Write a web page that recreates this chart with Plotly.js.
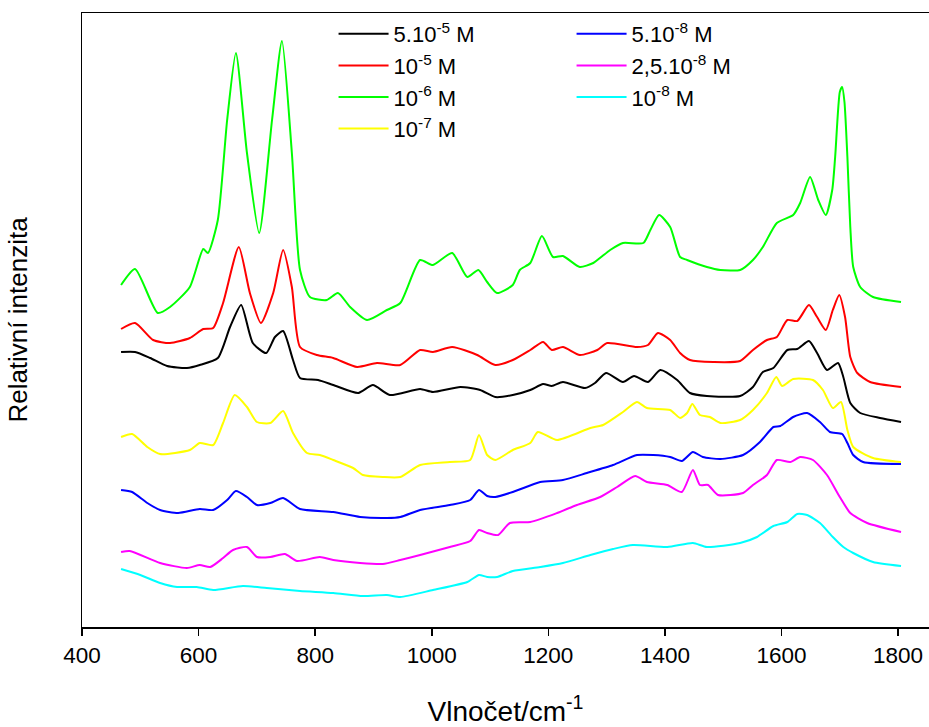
<!DOCTYPE html>
<html><head><meta charset="utf-8">
<script src="https://cdn.plot.ly/plotly-3.0.1.min.js"></script>
<style>html,body{margin:0;padding:0;background:#fff;}</style>
</head><body>
<div id="chart" style="width:929px;height:727px;"></div>
<script>
// Wavenumber (cm^-1) and relative intensity (arb. units)
const seriesNames = ["5.10<sup>-5</sup> M", "10<sup>-5</sup> M", "10<sup>-6</sup> M", "10<sup>-7</sup> M",
                     "5.10<sup>-8</sup> M", "2,5.10<sup>-8</sup> M", "10<sup>-8</sup> M"];
const seriesColors = ["#000000", "#ff0000", "#00ff00", "#ffff00", "#0000ff", "#ff00ff", "#00ffff"];

const wnBlack = [467,491,517,546,580,602,633,654,673,693,716,731,745,762,774,805,831,874,899,928,980,1002,1049,1083,1109,1139,1169,1191,1206,1225,1263,1280,1299,1328,1347,1371,1392,1421,1443,1472,1529,1551,1568,1586,1610,1627,1647,1661,1678,1697,1706,1718,1735,1769,1805];
const yBlack  = [275,275,269,261,259,262,269,300,322,284,274,290,296,267,249,247,242,234,242,232,238,235,240,237,230,232,237,243,241,245,239,244,254,245,251,245,257,247,234,231,231,240,255,259,277,278,286,274,257,264,250,224,214,209,205];

const wnRed = [467,491,522,551,585,608,625,642,669,688,707,728,745,760,774,803,831,872,906,946,980,1002,1035,1078,1109,1139,1169,1191,1206,1225,1254,1284,1301,1352,1371,1388,1409,1426,1443,1483,1529,1551,1575,1592,1610,1627,1647,1661,1676,1688,1699,1709,1718,1730,1752,1805];
const yRed  = [298,304,287,284,289,298,299,324,380,334,304,334,377,340,280,272,269,260,264,262,277,275,280,272,262,267,277,285,277,280,272,277,284,280,282,294,287,274,267,265,266,277,287,290,307,306,322,310,297,317,332,310,270,254,245,240];

const wnGreen = [467,491,530,551,585,608,616,633,649,664,683,704,726,743,760,774,791,820,839,860,889,923,946,980,1002,1035,1061,1080,1095,1112,1139,1151,1169,1189,1208,1225,1254,1277,1306,1328,1363,1375,1390,1409,1426,1438,1472,1495,1529,1551,1568,1592,1620,1632,1649,1663,1676,1687,1692,1700,1704,1708,1713,1718,1723,1735,1757,1805];
const yGreen  = [342,358,314,320,340,378,374,407,507,574,474,394,507,586,474,357,330,327,334,320,307,317,324,367,362,374,350,357,345,334,342,357,364,391,370,371,360,364,377,384,384,397,412,400,370,367,360,357,357,367,380,404,412,424,450,427,412,437,470,535,540,525,470,400,360,340,330,325];

const wnYellow = [467,486,512,534,585,602,625,642,662,683,700,723,745,762,786,808,831,865,882,916,946,980,1031,1066,1081,1095,1109,1139,1169,1182,1215,1272,1294,1328,1352,1369,1409,1426,1438,1447,1460,1477,1495,1529,1551,1575,1591,1601,1620,1654,1671,1688,1702,1713,1723,1757,1805];
const yYellow  = [190,193,180,173,177,184,182,204,232,220,205,204,216,194,174,172,167,159,152,150,150,162,165,167,192,172,167,177,184,195,187,199,202,215,225,219,217,209,214,223,212,210,204,207,217,234,250,241,248,247,237,219,225,197,180,169,165];

const wnBlue = [467,486,512,534,565,602,625,649,664,683,700,723,745,774,831,877,923,946,980,1031,1066,1081,1095,1109,1139,1186,1225,1266,1311,1352,1380,1409,1429,1448,1465,1495,1534,1563,1586,1598,1620,1644,1666,1683,1704,1713,1723,1740,1805];
const yBlue  = [137,135,124,117,114,118,117,127,136,130,122,124,129,118,115,110,109,110,117,122,127,137,131,130,135,145,147,154,162,172,172,170,166,175,170,168,172,185,200,201,210,214,205,195,193,184,172,165,163];

const wnMagenta = [467,482,534,580,602,620,642,659,683,700,723,748,769,808,831,877,916,946,980,1031,1066,1081,1095,1114,1134,1169,1215,1249,1289,1318,1349,1369,1404,1429,1448,1460,1474,1491,1534,1551,1575,1592,1615,1632,1654,1678,1700,1718,1747,1805];
const yMagenta  = [75,76,64,59,62,60,69,77,80,70,70,73,66,70,67,64,63,67,72,80,86,97,94,92,104,105,114,122,130,140,151,145,142,135,157,142,142,132,134,142,152,167,165,170,167,152,130,114,104,95];

const wnCyan = [467,500,534,563,597,625,676,717,774,831,882,923,946,1002,1061,1081,1095,1112,1139,1186,1225,1272,1311,1345,1404,1448,1472,1529,1558,1586,1610,1627,1644,1666,1688,1706,1723,1757,1805];
const yCyan  = [58,52,44,40,40,37,41,39,36,34,31,32,30,37,45,52,50,50,56,60,64,72,78,82,80,84,80,84,90,101,105,113,112,104,90,80,74,65,61];

const xTicks = [400,600,800,1000,1200,1400,1600,1800];

const xs = [wnBlack, wnRed, wnGreen, wnYellow, wnBlue, wnMagenta, wnCyan];
const ys = [yBlack, yRed, yGreen, yYellow, yBlue, yMagenta, yCyan];

const traces = xs.map((x, i) => ({
  x: x, y: ys[i], type: 'scatter', mode: 'lines',
  name: seriesNames[i],
  line: {color: seriesColors[i], width: 2, shape: 'spline', smoothing: 0.6},
  legend: i < 4 ? 'legend' : 'legend2'
}));

const legendFont = {family: 'Liberation Sans, Arial, sans-serif', size: 22, color: '#000'};
const layout = {
  width: 929, height: 727,
  paper_bgcolor: '#fff', plot_bgcolor: '#fff',
  margin: {l: 82, r: 0, t: 13, b: 100},
  showlegend: true,
  legend: {x: 0.297, y: 1, xanchor: 'left', yanchor: 'top', bgcolor: 'rgba(0,0,0,0)',
           font: legendFont, itemwidth: 50, tracegroupgap: 0},
  legend2: {x: 0.578, y: 1, xanchor: 'left', yanchor: 'top', bgcolor: 'rgba(0,0,0,0)',
           font: legendFont, itemwidth: 50, tracegroupgap: 0},
  xaxis: {
    range: [400, 1853], tickvals: xTicks, ticktext: xTicks.map(String),
    ticks: 'outside', ticklen: 7, tickwidth: 1.5, tickcolor: '#000',
    showline: true, linecolor: '#000', linewidth: 1.5, mirror: true,
    showgrid: false, zeroline: false,
    tickfont: {family: 'Liberation Sans, Arial, sans-serif', size: 22.5, color: '#000'},
    title: {text: 'Vlnočet/cm<sup>-1</sup>', standoff: 36,
            font: {family: 'Liberation Sans, Arial, sans-serif', size: 28, color: '#000'}}
  },
  yaxis: {
    range: [0, 614], showticklabels: false, ticks: '',
    showline: true, linecolor: '#000', linewidth: 1.5, mirror: false,
    showgrid: false, zeroline: false,
    title: {text: 'Relativní intenzita', standoff: 45,
            font: {family: 'Liberation Sans, Arial, sans-serif', size: 26, color: '#000'}}
  }
};

Plotly.newPlot('chart', traces, layout, {displayModeBar: false, staticPlot: true});
</script>
</body></html>
